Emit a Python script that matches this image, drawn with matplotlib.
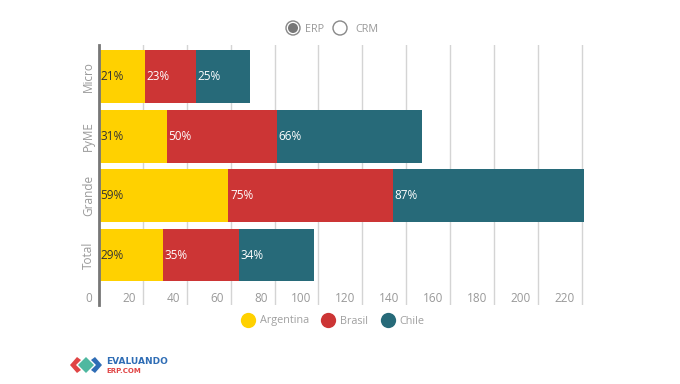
import matplotlib
matplotlib.use("Agg")
import matplotlib.pyplot as plt
from matplotlib.lines import Line2D
from matplotlib.patches import Polygon, Ellipse
from matplotlib.transforms import blended_transform_factory, ScaledTranslation
import numpy as np

plt.rcParams['font.family'] = ['Open Sans', 'DejaVu Sans']

categories = ["Micro", "PyME", "Grande", "Total"]
series_names = ["Argentina", "Brasil", "Chile"]
argentina = [21, 31, 59, 29]
brasil = [23, 50, 75, 35]
chile = [25, 66, 87, 34]
x_ticks = [0, 20, 40, 60, 80, 100, 120, 140, 160, 180, 200, 220]
colors = ["#FFD100", "#CC3535", "#276A79"]
label_colors = ["#333333", "white", "white"]

W, H = 680, 384
fig = plt.figure(figsize=(6.8, 3.84), dpi=100)
ax_left, ax_right, ax_top, ax_bot = 99, 584, 45, 305
ax = fig.add_axes([ax_left / W, 1 - ax_bot / H, (ax_right - ax_left) / W, (ax_bot - ax_top) / H])

y = np.arange(len(categories))
data = [argentina, brasil, chile]
left = np.zeros(len(categories))
for vals, c, lc in zip(data, colors, label_colors):
    vals = np.array(vals, dtype=float)
    ax.barh(y, vals, left=left, height=0.89, color=c, edgecolor='none', zorder=2)
    for yi, l, v in zip(y, left, vals):
        ax.text(l, yi, f"{int(v)}%", color=lc, fontsize=8.5, va='center', ha='left', zorder=3,
                transform=ax.transData + ScaledTranslation(1.5 / 100, 0, fig.dpi_scale_trans))
    left = left + vals

ax.set_xlim(0, 221)
ax.set_ylim(3.84, -0.53)
ax.set_yticks(y)
ax.set_yticklabels(categories, rotation=90, va='center', color='#999999', fontsize=8.5)
ax.tick_params(axis='y', length=0, pad=3)
ax.set_xticks([])
for t in x_ticks:
    if t > 0:
        ax.axvline(t, color='#d4d4d4', lw=1, zorder=1)
trans = blended_transform_factory(ax.transData, ax.transAxes)
for t in x_ticks:
    ax.text(t, (ax_bot - 298) / (ax_bot - ax_top), str(t), ha='right', va='center', fontsize=8.5,
            color='#999999', transform=trans + ScaledTranslation(-7 / 100, 0, fig.dpi_scale_trans))

for s in ['top', 'right', 'bottom']:
    ax.spines[s].set_visible(False)
ax.spines['left'].set_color('#777777')
ax.spines['left'].set_linewidth(2)
ax.spines['left'].set_zorder(4)

# bottom legend
handles = [Line2D([], [], marker='o', ls='none', markersize=11, markerfacecolor=c, markeredgecolor='none')
           for c in colors]
fig.legend(handles, series_names, loc='center', bbox_to_anchor=(333 / W, 1 - 321 / H), ncol=3,
           frameon=False, fontsize=7.8, handletextpad=0.5, columnspacing=1.2, handlelength=1.2,
           labelcolor='#a0a0a0')

def fx(px):
    return px / W
def fy(py):
    return 1 - py / H

# top radio legend
fig.patches.append(Ellipse((fx(293), fy(28)), 14 / W, 14 / H, transform=fig.transFigure,
                           facecolor='white', edgecolor='#888888', lw=1))
fig.patches.append(Ellipse((fx(293), fy(28)), 10 / W, 10 / H, transform=fig.transFigure,
                           facecolor='#777777', edgecolor='none'))
fig.text(fx(305), fy(29), "ERP", fontsize=7.8, color='#999999', va='center', ha='left')
fig.patches.append(Ellipse((fx(340), fy(28)), 14 / W, 14 / H, transform=fig.transFigure,
                           facecolor='white', edgecolor='#888888', lw=1))
fig.text(fx(355), fy(29), "CRM", fontsize=7.8, color='#999999', va='center', ha='left')

# logo
def poly(pts, color):
    fig.patches.append(Polygon([(fx(a), fy(b)) for a, b in pts], closed=True, transform=fig.transFigure,
                               facecolor=color, edgecolor='none'))
poly([(77, 357), (81, 360), (76, 365), (81, 370), (77, 373), (70, 365)], '#E04545')
poly([(86, 357), (94, 365), (86, 373), (78, 365)], '#4FB8A0')
poly([(95, 357), (102, 365), (95, 373), (91, 370), (96, 365), (91, 360)], '#2F6DB5')
fig.text(fx(106), fy(361), "EVALUANDO", fontsize=6.5, color='#2F6DB5', fontweight='bold',
         va='center', ha='left', family=['DejaVu Sans'])
fig.text(fx(106), fy(371), "ERP.COM", fontsize=5, color='#E04545', fontweight='bold',
         va='center', ha='left', family=['DejaVu Sans'])

fig.savefig("out.png", dpi=100)
